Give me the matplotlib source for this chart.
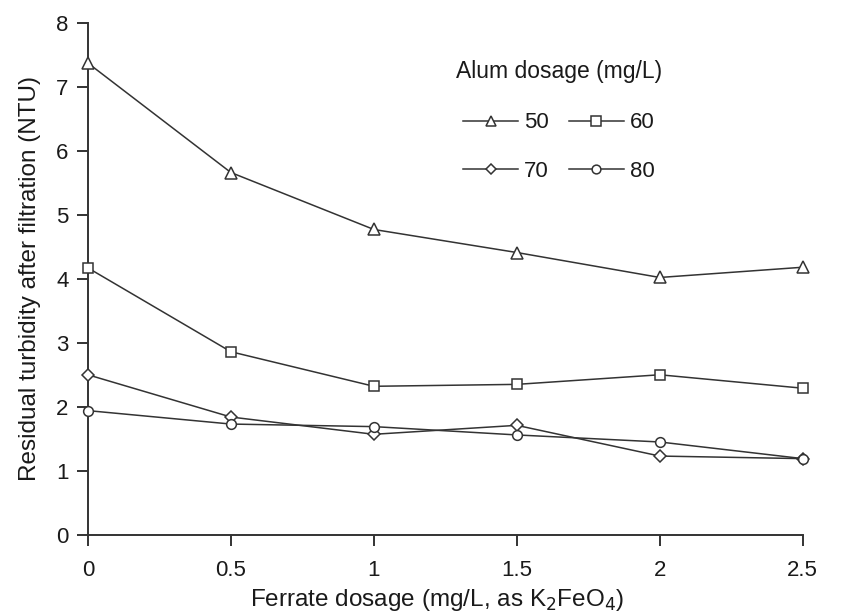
import matplotlib
matplotlib.use("Agg")
import matplotlib.pyplot as plt

plt.rcParams['font.family'] = ['Liberation Sans', 'DejaVu Sans']

ferrate = [0, 0.5, 1, 1.5, 2, 2.5]
alum_labels = ['50', '60', '70', '80']
alum50 = [7.37, 5.66, 4.77, 4.41, 4.02, 4.18]
alum60 = [4.17, 2.86, 2.32, 2.35, 2.50, 2.29]
alum70 = [2.50, 1.84, 1.57, 1.71, 1.23, 1.19]
alum80 = [1.94, 1.73, 1.69, 1.56, 1.45, 1.19]
xticks = [0, 0.5, 1, 1.5, 2, 2.5]
xtick_labels = ['0', '0.5', '1', '1.5', '2', '2.5']
yticks = [0, 1, 2, 3, 4, 5, 6, 7, 8]

fig = plt.figure(figsize=(8.45, 6.14), dpi=100)
ax = fig.add_axes([0.104, 0.129, 0.846, 0.834])

series = [alum50, alum60, alum70, alum80]
markers = ['^', 's', 'D', 'o']
msizes = [8.5, 7.5, 6, 7]
col = '#333333'
txt = '#1a1a1a'
handles = []
for vals, m, ms, lab in zip(series, markers, msizes, alum_labels):
    h, = ax.plot(ferrate, vals, color=col, lw=1.1, marker=m, ms=ms,
                 mfc='white', mec=col, mew=1.1, label=lab, clip_on=False, zorder=3)
    handles.append(h)

ax.set_xlim(0, 2.5)
ax.set_ylim(0, 8)
ax.set_xticks(xticks)
ax.set_xticklabels(xtick_labels)
ax.set_yticks(yticks)
for s in ['top', 'right']:
    ax.spines[s].set_visible(False)
for s in ['left', 'bottom']:
    ax.spines[s].set_color(col)
    ax.spines[s].set_linewidth(1.4)
ax.tick_params(direction='out', length=8, width=1.4, color=col, labelsize=16,
               labelcolor=txt)
ax.tick_params(axis='x', pad=10)
ax.tick_params(axis='y', pad=6)

ax.set_xlabel('Ferrate dosage (mg/L, as K$_2$FeO$_4$)', fontsize=17.5, color=txt)
ax.xaxis.set_label_coords(0.488, -0.102)
ax.set_ylabel('Residual turbidity after filtration (NTU)', fontsize=17.5, color=txt, labelpad=11)

# order so that rows read 50, 60 / 70, 80
order = [0, 2, 1, 3]
leg = ax.legend([handles[i] for i in order], [alum_labels[i] for i in order],
                ncol=2, title='Alum dosage (mg/L)', frameon=False, fontsize=16,
                title_fontsize=16.5, loc='upper left',
                bbox_to_anchor=(0.526, 0.92), bbox_transform=fig.transFigure,
                borderpad=0, handlelength=2.5, markerscale=0.9, columnspacing=0.9,
                handletextpad=0.25, labelspacing=1.25)
for t in leg.get_texts():
    t.set_color(txt)
leg.get_title().set_color(txt)
leg._legend_box.sep = 21

fig.savefig('out.png', dpi=100)
